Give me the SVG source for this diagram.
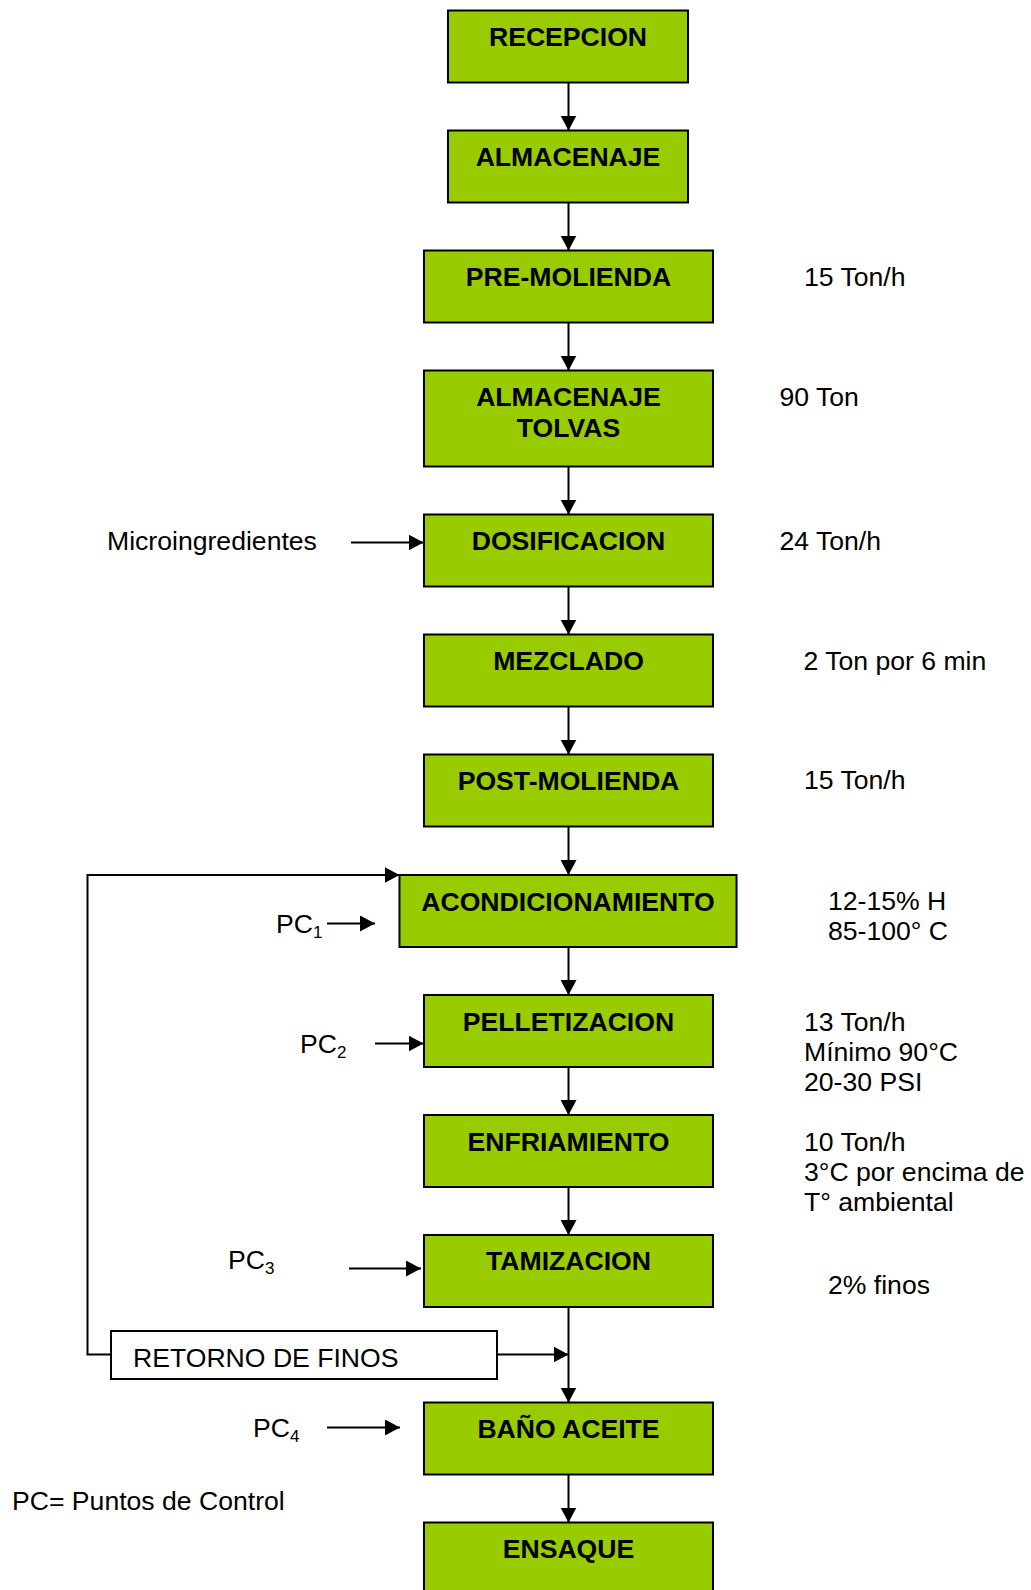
<svg xmlns="http://www.w3.org/2000/svg" width="1031" height="1590" viewBox="0 0 1031 1590">
<style>
  .box { fill: #99CC00; stroke: #000; stroke-width: 2; }
  .plain { fill: #fff; stroke: #000; stroke-width: 2; }
  .lbl { font-family: "Liberation Sans", Arial, sans-serif; font-size: 26.6px; font-weight: bold; fill: #000; text-anchor: middle; }
  .txt { font-family: "Liberation Sans", Arial, sans-serif; font-size: 26.6px; fill: #000; }
  .sub { font-size: 17px; }
  .con { fill: none; stroke: #000; stroke-width: 2; }
</style>
<defs>
  <marker id="ah" markerUnits="userSpaceOnUse" markerWidth="15" markerHeight="16" refX="15" refY="8" orient="auto">
    <path d="M0,0 L15,8 L0,16 Z" fill="#000"/>
  </marker>
</defs>
<rect width="1031" height="1590" fill="#fff"/>

<g id="connectors">
  <line class="con" x1="568.5" y1="82.5" x2="568.5" y2="130.5" marker-end="url(#ah)"/>
  <line class="con" x1="568.5" y1="202.5" x2="568.5" y2="250.5" marker-end="url(#ah)"/>
  <line class="con" x1="568.5" y1="322.5" x2="568.5" y2="370.5" marker-end="url(#ah)"/>
  <line class="con" x1="568.5" y1="466.5" x2="568.5" y2="514.5" marker-end="url(#ah)"/>
  <line class="con" x1="568.5" y1="586.5" x2="568.5" y2="634.5" marker-end="url(#ah)"/>
  <line class="con" x1="568.5" y1="706.5" x2="568.5" y2="754.5" marker-end="url(#ah)"/>
  <line class="con" x1="568.5" y1="826.5" x2="568.5" y2="875" marker-end="url(#ah)"/>
  <line class="con" x1="568.5" y1="947" x2="568.5" y2="995" marker-end="url(#ah)"/>
  <line class="con" x1="568.5" y1="1067" x2="568.5" y2="1115" marker-end="url(#ah)"/>
  <line class="con" x1="568.5" y1="1187" x2="568.5" y2="1235" marker-end="url(#ah)"/>
  <line class="con" x1="568.5" y1="1307" x2="568.5" y2="1402.5" marker-end="url(#ah)"/>
  <line class="con" x1="568.5" y1="1474.5" x2="568.5" y2="1522.5" marker-end="url(#ah)"/>
  <line class="con" x1="497" y1="1354.5" x2="568.5" y2="1354.5" marker-end="url(#ah)"/>
  <polyline class="con" points="111,1354.5 87.5,1354.5 87.5,875 399.5,875" marker-end="url(#ah)"/>
  <line class="con" x1="351" y1="542.5" x2="423.5" y2="542.5" marker-end="url(#ah)"/>
  <line class="con" x1="327" y1="923.5" x2="375" y2="923.5" marker-end="url(#ah)"/>
  <line class="con" x1="375" y1="1043.5" x2="423.5" y2="1043.5" marker-end="url(#ah)"/>
  <line class="con" x1="349" y1="1268.5" x2="421" y2="1268.5" marker-end="url(#ah)"/>
  <line class="con" x1="327" y1="1427.5" x2="400" y2="1427.5" marker-end="url(#ah)"/>
</g>

<g id="recepcion"><rect class="box" x="448" y="10.5" width="240" height="72"/><text class="lbl" x="568" y="46">RECEPCION</text></g>
<g id="almacenaje"><rect class="box" x="448" y="130.5" width="240" height="72"/><text class="lbl" x="568" y="166">ALMACENAJE</text></g>
<g id="pre-molienda"><rect class="box" x="424" y="250.5" width="289" height="72"/><text class="lbl" x="568.5" y="286">PRE-MOLIENDA</text></g>
<g id="almacenaje-tolvas"><rect class="box" x="424" y="370.5" width="289" height="96"/><text class="lbl" x="568.5" y="406">ALMACENAJE</text><text class="lbl" x="568.5" y="437">TOLVAS</text></g>
<g id="dosificacion"><rect class="box" x="424" y="514.5" width="289" height="72"/><text class="lbl" x="568.5" y="550">DOSIFICACION</text></g>
<g id="mezclado"><rect class="box" x="424" y="634.5" width="289" height="72"/><text class="lbl" x="568.5" y="670">MEZCLADO</text></g>
<g id="post-molienda"><rect class="box" x="424" y="754.5" width="289" height="72"/><text class="lbl" x="568.5" y="790">POST-MOLIENDA</text></g>
<g id="acondicionamiento"><rect class="box" x="399.5" y="875" width="337" height="72"/><text class="lbl" x="568" y="910.5">ACONDICIONAMIENTO</text></g>
<g id="pelletizacion"><rect class="box" x="424" y="995" width="289" height="72"/><text class="lbl" x="568.5" y="1030.5">PELLETIZACION</text></g>
<g id="enfriamiento"><rect class="box" x="424" y="1115" width="289" height="72"/><text class="lbl" x="568.5" y="1150.5">ENFRIAMIENTO</text></g>
<g id="tamizacion"><rect class="box" x="424" y="1235" width="289" height="72"/><text class="lbl" x="568.5" y="1270">TAMIZACION</text></g>
<g id="retorno"><rect class="plain" x="111" y="1331" width="386" height="48"/><text class="txt" x="133" y="1366.5">RETORNO DE FINOS</text></g>
<g id="bano-aceite"><rect class="box" x="424" y="1402.5" width="289" height="72"/><text class="lbl" x="568.5" y="1438">BAÑO ACEITE</text></g>
<g id="ensaque"><rect class="box" x="424" y="1522.5" width="289" height="90"/><text class="lbl" x="568.5" y="1558">ENSAQUE</text></g>

<g id="annotations">
  <text class="txt" x="107" y="550">Microingredientes</text>
  <text class="txt" x="276" y="933">PC<tspan class="sub" dy="5">1</tspan></text>
  <text class="txt" x="300" y="1053">PC<tspan class="sub" dy="5">2</tspan></text>
  <text class="txt" x="228" y="1269">PC<tspan class="sub" dy="5">3</tspan></text>
  <text class="txt" x="253" y="1437">PC<tspan class="sub" dy="5">4</tspan></text>
  <text class="txt" x="12" y="1510">PC= Puntos de Control</text>

  <text class="txt" x="804" y="286">15 Ton/h</text>
  <text class="txt" x="779.5" y="406">90 Ton</text>
  <text class="txt" x="779.5" y="550">24 Ton/h</text>
  <text class="txt" x="803.5" y="670">2 Ton por 6 min</text>
  <text class="txt" x="804" y="789">15 Ton/h</text>
  <text class="txt" x="828" y="910">12-15% H</text>
  <text class="txt" x="828" y="940">85-100° C</text>
  <text class="txt" x="804" y="1030.5">13 Ton/h</text>
  <text class="txt" x="804" y="1060.5">Mínimo 90°C</text>
  <text class="txt" x="804" y="1090.5">20-30 PSI</text>
  <text class="txt" x="804" y="1150.5">10 Ton/h</text>
  <text class="txt" x="804" y="1180.5">3°C por encima de</text>
  <text class="txt" x="804" y="1210.5">T° ambiental</text>
  <text class="txt" x="828" y="1294">2% finos</text>
</g>
</svg>
